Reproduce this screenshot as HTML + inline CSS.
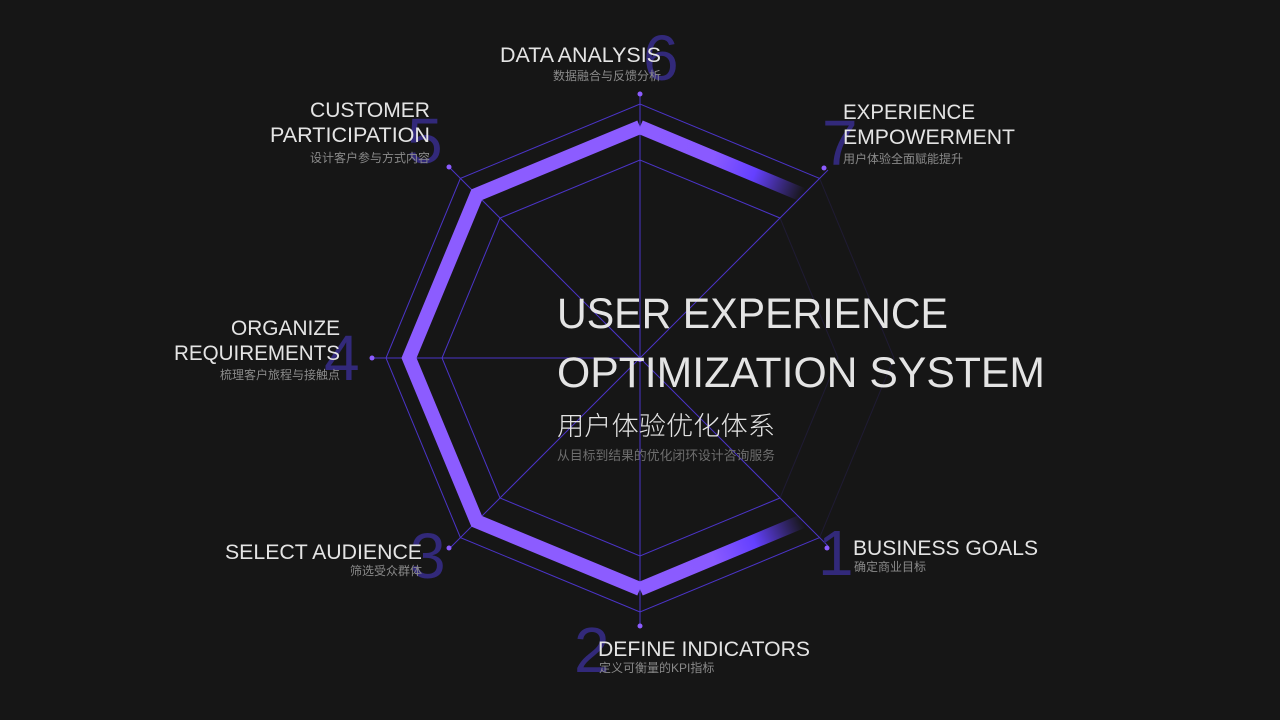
<!DOCTYPE html>
<html><head><meta charset="utf-8"><style>
html,body{margin:0;padding:0;background:#161616;}
svg{display:block;}
.l{font-family:"Liberation Sans","Noto Sans CJK SC",sans-serif;fill:#e4e4e4;font-size:21px;font-weight:300;}
.s{font-family:"Liberation Sans","Noto Sans CJK SC",sans-serif;fill:#8a8a8a;font-size:12px;}
.n{font-family:"Liberation Sans",sans-serif;fill:#32297a;font-size:64px;font-weight:300;}
</style></head><body>
<svg width="1280" height="720" viewBox="0 0 1280 720" xmlns="http://www.w3.org/2000/svg">
<defs>
<linearGradient id="gA" gradientUnits="userSpaceOnUse" x1="640" y1="127" x2="803" y2="195">
<stop offset="0" stop-color="#8c5cff"/><stop offset="0.45" stop-color="#8a5aff"/><stop offset="0.7" stop-color="#6440ff"/><stop offset="1" stop-color="#6440ff" stop-opacity="0"/></linearGradient>
<linearGradient id="gB" gradientUnits="userSpaceOnUse" x1="640" y1="589" x2="803" y2="521">
<stop offset="0" stop-color="#8c5cff"/><stop offset="0.45" stop-color="#8a5aff"/><stop offset="0.7" stop-color="#6440ff"/><stop offset="1" stop-color="#6440ff" stop-opacity="0"/></linearGradient>
</defs>
<rect width="1280" height="720" fill="#161616"/>
<g fill="none" stroke="#4b34c8" stroke-width="1">
<polyline points="819.6,537.6 640,612 460.4,537.6 386,358 460.4,178.4 640,104 819.6,178.4"/>
<polyline points="780,498 640,556 500,498 442,358 500,218 640,160 780,218"/>
</g>
<g fill="none" stroke="#3a2a8a" stroke-width="1" opacity="0.25">
<polyline points="819.6,178.4 894,358 819.6,537.6"/>
<polyline points="780,218 838,358 780,498"/>
</g>
<g stroke="#4b34c8" stroke-width="1">
<line x1="640" y1="358" x2="640" y2="92"/>
<line x1="640" y1="358" x2="828" y2="170"/>
<line x1="640" y1="358" x2="828" y2="546"/>
<line x1="640" y1="358" x2="640" y2="626"/>
<line x1="640" y1="358" x2="450" y2="548"/>
<line x1="640" y1="358" x2="372" y2="358"/>
<line x1="640" y1="358" x2="450" y2="168"/>
</g>
<polyline points="640,589 476.7,521.3 409,358 476.7,194.7 640,127" fill="none" stroke="#8c5cff" stroke-width="14" stroke-linejoin="miter"/>
<line x1="640" y1="127" x2="803" y2="195" stroke="url(#gA)" stroke-width="14"/>
<line x1="640" y1="589" x2="803" y2="521" stroke="url(#gB)" stroke-width="14"/>
<g fill="#8c5cff">
<circle cx="640" cy="94" r="2.5"/><circle cx="824" cy="168" r="2.5"/><circle cx="827" cy="548" r="2.5"/>
<circle cx="640" cy="626" r="2.5"/><circle cx="449" cy="548" r="2.5"/><circle cx="372" cy="358" r="2.5"/>
<circle cx="449" cy="167" r="2.5"/><circle cx="640" cy="360" r="2"/>
</g>
<text class="n" x="643" y="80">6</text>
<text class="n" x="822" y="165">7</text>
<text class="n" x="818" y="575">1</text>
<text class="n" x="574" y="672">2</text>
<text class="n" x="410" y="578">3</text>
<text class="n" x="324" y="380">4</text>
<text class="n" x="407" y="163">5</text>
<text class="l" x="500" y="62" textLength="161" lengthAdjust="spacingAndGlyphs">DATA ANALYSIS</text>
<text class="s" x="661" y="80" text-anchor="end">数据融合与反馈分析</text>
<text class="l" x="310" y="117" textLength="120" lengthAdjust="spacingAndGlyphs">CUSTOMER</text>
<text class="l" x="270" y="142" textLength="160" lengthAdjust="spacingAndGlyphs">PARTICIPATION</text>
<text class="s" x="430" y="162" text-anchor="end">设计客户参与方式内容</text>
<text class="l" x="231" y="335" textLength="109" lengthAdjust="spacingAndGlyphs">ORGANIZE</text>
<text class="l" x="174" y="360" textLength="166" lengthAdjust="spacingAndGlyphs">REQUIREMENTS</text>
<text class="s" x="340" y="379" text-anchor="end">梳理客户旅程与接触点</text>
<text class="l" x="225" y="559" textLength="197" lengthAdjust="spacingAndGlyphs">SELECT AUDIENCE</text>
<text class="s" x="422" y="575" text-anchor="end">筛选受众群体</text>
<text class="l" x="598" y="656" textLength="212" lengthAdjust="spacingAndGlyphs">DEFINE INDICATORS</text>
<text class="s" x="599" y="672">定义可衡量的KPI指标</text>
<text class="l" x="853" y="555" textLength="185" lengthAdjust="spacingAndGlyphs">BUSINESS GOALS</text>
<text class="s" x="854" y="571">确定商业目标</text>
<text class="l" x="843" y="119" textLength="132" lengthAdjust="spacingAndGlyphs">EXPERIENCE</text>
<text class="l" x="843" y="144" textLength="172" lengthAdjust="spacingAndGlyphs">EMPOWERMENT</text>
<text class="s" x="843" y="163">用户体验全面赋能提升</text>
<text class="l" x="557" y="328" style="font-size:43px" textLength="391" lengthAdjust="spacingAndGlyphs">USER EXPERIENCE</text>
<text class="l" x="557" y="387" style="font-size:43px" textLength="488" lengthAdjust="spacingAndGlyphs">OPTIMIZATION SYSTEM</text>
<text class="l" x="557" y="435" style="font-size:26px" textLength="218" lengthAdjust="spacingAndGlyphs">用户体验优化体系</text>
<text class="s" x="557" y="460" style="font-size:13px;fill:#6e6e6e" textLength="218" lengthAdjust="spacingAndGlyphs">从目标到结果的优化闭环设计咨询服务</text>
</svg>
</body></html>
